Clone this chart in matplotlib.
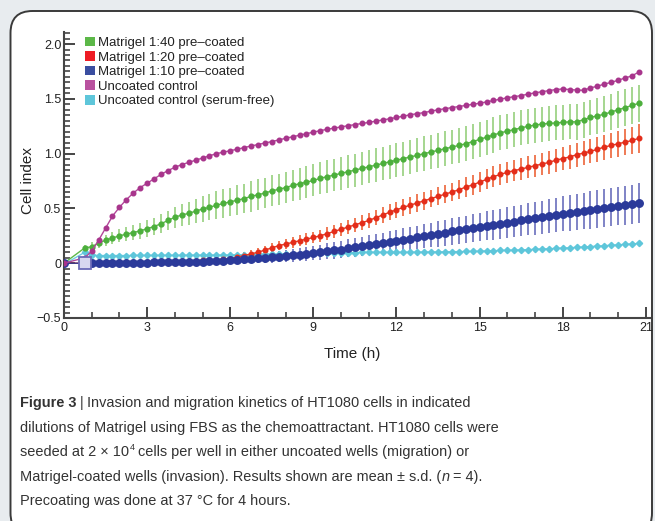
import matplotlib
matplotlib.use("Agg")
import matplotlib.pyplot as plt
from matplotlib.patches import FancyBboxPatch, Patch
from matplotlib.transforms import IdentityTransform
from matplotlib.ticker import MultipleLocator

# ---------------- data ----------------
time_h = [0.0, 0.75,
          1.0, 1.25, 1.5, 1.75, 2.0, 2.25, 2.5, 2.75, 3.0, 3.25, 3.5, 3.75,
          4.0, 4.25, 4.5, 4.75, 5.0, 5.25, 5.5, 5.75, 6.0, 6.25, 6.5, 6.75,
          7.0, 7.25, 7.5, 7.75, 8.0, 8.25, 8.5, 8.75, 9.0, 9.25, 9.5, 9.75,
          10.0, 10.25, 10.5, 10.75, 11.0, 11.25, 11.5, 11.75, 12.0, 12.25, 12.5, 12.75,
          13.0, 13.25, 13.5, 13.75, 14.0, 14.25, 14.5, 14.75, 15.0, 15.25, 15.5, 15.75,
          16.0, 16.25, 16.5, 16.75, 17.0, 17.25, 17.5, 17.75, 18.0, 18.25, 18.5, 18.75,
          19.0, 19.25, 19.5, 19.75, 20.0, 20.25, 20.5, 20.75]

uncoated = [0.00, 0.05,
            0.11, 0.21, 0.32, 0.43, 0.51, 0.58, 0.64, 0.69, 0.73, 0.77, 0.81, 0.845,
            0.875, 0.90, 0.92, 0.94, 0.96, 0.98, 1.00, 1.013, 1.027, 1.04, 1.055, 1.07,
            1.083, 1.097, 1.11, 1.125, 1.14, 1.154, 1.168, 1.182, 1.196, 1.21, 1.222, 1.233,
            1.244, 1.255, 1.265, 1.275, 1.285, 1.296, 1.307, 1.318, 1.33, 1.342, 1.355, 1.365,
            1.375, 1.388, 1.40, 1.41, 1.42, 1.43, 1.44, 1.45, 1.46, 1.472, 1.485, 1.497,
            1.51, 1.52, 1.53, 1.543, 1.555, 1.565, 1.575, 1.585, 1.59, 1.585, 1.58, 1.578,
            1.60, 1.615, 1.635, 1.65, 1.67, 1.69, 1.71, 1.745]
uncoated_sd = [0.0, 0.01,
               0.01, 0.012, 0.012, 0.012, 0.014, 0.014, 0.014, 0.014, 0.015, 0.015, 0.015, 0.015,
               0.015, 0.015, 0.015, 0.015, 0.015, 0.015, 0.016, 0.016, 0.016, 0.016, 0.016, 0.016,
               0.016, 0.016, 0.016, 0.016, 0.017, 0.017, 0.017, 0.017, 0.017, 0.017, 0.017, 0.017,
               0.017, 0.017, 0.017, 0.017, 0.018, 0.018, 0.018, 0.018, 0.018, 0.018, 0.018, 0.018,
               0.018, 0.018, 0.018, 0.018, 0.018, 0.018, 0.018, 0.018, 0.018, 0.018, 0.018, 0.018,
               0.018, 0.018, 0.018, 0.018, 0.018, 0.018, 0.018, 0.018, 0.018, 0.018, 0.018, 0.018,
               0.018, 0.018, 0.018, 0.018, 0.018, 0.018, 0.018, 0.018]

m40 = [0.00, 0.14,
       0.15, 0.185, 0.21, 0.23, 0.25, 0.265, 0.28, 0.295, 0.315, 0.335, 0.36, 0.39,
       0.42, 0.44, 0.455, 0.475, 0.495, 0.51, 0.53, 0.545, 0.56, 0.575, 0.59, 0.61,
       0.625, 0.64, 0.66, 0.675, 0.69, 0.71, 0.725, 0.74, 0.755, 0.775, 0.79, 0.805,
       0.82, 0.835, 0.85, 0.865, 0.88, 0.895, 0.91, 0.925, 0.94, 0.955, 0.97, 0.985,
       1.00, 1.015, 1.03, 1.045, 1.06, 1.075, 1.09, 1.11, 1.13, 1.15, 1.17, 1.19,
       1.205, 1.22, 1.235, 1.25, 1.26, 1.27, 1.275, 1.28, 1.285, 1.29, 1.29, 1.31,
       1.33, 1.345, 1.36, 1.38, 1.40, 1.42, 1.44, 1.46]
m40_sd = [0.0, 0.03,
          0.04, 0.045, 0.05, 0.055, 0.06, 0.065, 0.07, 0.072, 0.075, 0.08, 0.085, 0.09,
          0.095, 0.10, 0.105, 0.11, 0.115, 0.12, 0.125, 0.13, 0.13, 0.135, 0.135, 0.14,
          0.14, 0.14, 0.142, 0.142, 0.144, 0.144, 0.145, 0.145, 0.146, 0.147, 0.148, 0.148,
          0.15, 0.15, 0.15, 0.152, 0.152, 0.153, 0.153, 0.154, 0.155, 0.155, 0.156, 0.156,
          0.157, 0.157, 0.158, 0.158, 0.159, 0.159, 0.16, 0.16, 0.16, 0.16, 0.16, 0.16,
          0.16, 0.16, 0.16, 0.16, 0.16, 0.16, 0.16, 0.16, 0.16, 0.16, 0.162, 0.163,
          0.164, 0.165, 0.166, 0.167, 0.168, 0.168, 0.17, 0.17]

m20 = [0.00, 0.00,
       0.005, 0.005, 0.005, 0.008, 0.008, 0.01, 0.01, 0.012, 0.012, 0.014, 0.015, 0.016,
       0.018, 0.02, 0.022, 0.024, 0.026, 0.028, 0.032, 0.036, 0.042, 0.055, 0.07, 0.085,
       0.10, 0.12, 0.14, 0.16, 0.175, 0.19, 0.205, 0.22, 0.235, 0.25, 0.27, 0.29,
       0.31, 0.33, 0.35, 0.37, 0.39, 0.415, 0.44, 0.465, 0.487, 0.51, 0.53, 0.55,
       0.57, 0.59, 0.61, 0.63, 0.65, 0.67, 0.695, 0.715, 0.74, 0.765, 0.79, 0.81,
       0.83, 0.845, 0.86, 0.875, 0.89, 0.905, 0.92, 0.94, 0.955, 0.97, 0.99, 1.005,
       1.02, 1.04, 1.06, 1.075, 1.09, 1.105, 1.12, 1.14]
m20_sd = [0.0, 0.005,
          0.008, 0.008, 0.009, 0.009, 0.01, 0.01, 0.011, 0.011, 0.012, 0.012, 0.013, 0.013,
          0.014, 0.015, 0.016, 0.017, 0.018, 0.019, 0.02, 0.022, 0.025, 0.028, 0.031, 0.034,
          0.037, 0.04, 0.042, 0.044, 0.046, 0.048, 0.05, 0.052, 0.054, 0.055, 0.056, 0.058,
          0.06, 0.062, 0.064, 0.066, 0.068, 0.07, 0.071, 0.073, 0.075, 0.076, 0.078, 0.079,
          0.08, 0.081, 0.083, 0.084, 0.085, 0.086, 0.088, 0.089, 0.09, 0.091, 0.093, 0.094,
          0.095, 0.096, 0.098, 0.099, 0.10, 0.101, 0.103, 0.104, 0.105, 0.106, 0.108, 0.109,
          0.11, 0.112, 0.114, 0.116, 0.118, 0.122, 0.126, 0.13]

m10 = [0.00, 0.00,
       0.0, 0.0, 0.002, 0.003, 0.004, 0.005, 0.005, 0.006, 0.006, 0.007, 0.008, 0.009,
       0.01, 0.011, 0.012, 0.013, 0.015, 0.017, 0.02, 0.023, 0.027, 0.031, 0.035, 0.04,
       0.045, 0.05, 0.055, 0.06, 0.066, 0.072, 0.078, 0.084, 0.09, 0.099, 0.108, 0.117,
       0.125, 0.135, 0.145, 0.155, 0.165, 0.175, 0.185, 0.195, 0.205, 0.215, 0.225, 0.235,
       0.245, 0.256, 0.267, 0.278, 0.29, 0.30, 0.31, 0.32, 0.33, 0.34, 0.35, 0.36,
       0.37, 0.38, 0.39, 0.40, 0.41, 0.42, 0.43, 0.44, 0.45, 0.459, 0.468, 0.477,
       0.485, 0.494, 0.503, 0.512, 0.52, 0.53, 0.54, 0.548]
m10_sd = [0.0, 0.005,
          0.008, 0.008, 0.009, 0.009, 0.01, 0.01, 0.011, 0.011, 0.012, 0.013, 0.014, 0.016,
          0.018, 0.019, 0.021, 0.023, 0.025, 0.027, 0.03, 0.032, 0.035, 0.037, 0.04, 0.042,
          0.045, 0.047, 0.05, 0.052, 0.055, 0.057, 0.06, 0.062, 0.065, 0.069, 0.072, 0.076,
          0.08, 0.082, 0.085, 0.087, 0.09, 0.092, 0.095, 0.097, 0.10, 0.102, 0.105, 0.107,
          0.11, 0.112, 0.115, 0.117, 0.12, 0.122, 0.125, 0.127, 0.13, 0.132, 0.135, 0.137,
          0.14, 0.142, 0.145, 0.147, 0.15, 0.152, 0.155, 0.157, 0.16, 0.162, 0.165, 0.167,
          0.17, 0.171, 0.172, 0.173, 0.175, 0.177, 0.178, 0.18]

serum_free = [-0.01, 0.10,
              0.075, 0.07, 0.07, 0.07, 0.07, 0.07, 0.071, 0.071, 0.071, 0.071, 0.072, 0.072,
              0.072, 0.072, 0.073, 0.073, 0.073, 0.073, 0.074, 0.074, 0.075, 0.076, 0.077, 0.078,
              0.08, 0.081, 0.082, 0.083, 0.085, 0.086, 0.087, 0.088, 0.09, 0.091, 0.092, 0.093,
              0.095, 0.096, 0.097, 0.098, 0.10, 0.10, 0.10, 0.10, 0.10, 0.10, 0.101, 0.101,
              0.102, 0.103, 0.103, 0.104, 0.105, 0.106, 0.107, 0.108, 0.11, 0.112, 0.114, 0.116,
              0.118, 0.12, 0.122, 0.124, 0.127, 0.13, 0.132, 0.135, 0.138, 0.141, 0.145, 0.148,
              0.152, 0.156, 0.16, 0.164, 0.168, 0.172, 0.176, 0.18]
serum_free_sd = [0.0, 0.01,
                 0.01, 0.01, 0.01, 0.01, 0.01, 0.01, 0.01, 0.01, 0.01, 0.01, 0.01, 0.01,
                 0.01, 0.01, 0.01, 0.01, 0.01, 0.01, 0.01, 0.01, 0.01, 0.01, 0.01, 0.01,
                 0.01, 0.01, 0.01, 0.01, 0.01, 0.01, 0.01, 0.01, 0.01, 0.01, 0.01, 0.01,
                 0.01, 0.01, 0.01, 0.01, 0.01, 0.01, 0.01, 0.01, 0.01, 0.01, 0.01, 0.01,
                 0.01, 0.01, 0.01, 0.01, 0.01, 0.01, 0.01, 0.01, 0.01, 0.01, 0.01, 0.01,
                 0.01, 0.01, 0.01, 0.01, 0.01, 0.01, 0.01, 0.01, 0.01, 0.01, 0.01, 0.01,
                 0.01, 0.01, 0.01, 0.01, 0.01, 0.01, 0.01, 0.01]

legend_labels = ["Matrigel 1:40 pre\u2013coated", "Matrigel 1:20 pre\u2013coated",
                 "Matrigel 1:10 pre\u2013coated", "Uncoated control",
                 "Uncoated control (serum-free)"]
legend_colors = ["#5cb848", "#ee1c25", "#3a4ea0", "#b9529f", "#5ec6da"]

y_ticks = [-0.5, 0, 0.5, 1.0, 1.5, 2.0]
y_tick_labels = ["\u22120.5", "0", "0.5", "1.0", "1.5", "2.0"]
x_ticks = [0, 3, 6, 9, 12, 15, 18, 21]

caption_lines = [
    "Invasion and migration kinetics of HT1080 cells in indicated",
    "dilutions of Matrigel using FBS as the chemoattractant. HT1080 cells were",
    "cells per well in either uncoated wells (migration) or",
    "Matrigel-coated wells (invasion). Results shown are mean \u00b1 s.d. (",
    "Precoating was done at 37 \u00b0C for 4 hours.",
]

# ---------------- figure ----------------
W, H = 655, 521
fig = plt.figure(figsize=(W / 100, H / 100), dpi=100, facecolor="#e8ecef")

box = FancyBboxPatch((10.5, -14), 641.5, 524, boxstyle="round,pad=0,rounding_size=22",
                     transform=IdentityTransform(), facecolor="white",
                     edgecolor="#3a3a3a", linewidth=1.4, zorder=0)
fig.add_artist(box)

ax_l, ax_r, ax_t, ax_b = 64, 650, 32, 318
ax = fig.add_axes([ax_l / W, 1 - ax_b / H, (ax_r - ax_l) / W, (ax_b - ax_t) / H])
ax.set_facecolor("none")
ax.set_xlim(0, 21.15)
ax.set_ylim(-0.5, 2.11)

axis_color = "#454545"
for s in ["top", "right"]:
    ax.spines[s].set_visible(False)
for s in ["left", "bottom"]:
    ax.spines[s].set_color(axis_color)
    ax.spines[s].set_linewidth(1.5)

ax.set_yticks(y_ticks)
ax.set_yticklabels(y_tick_labels)
ax.set_xticks(x_ticks)
ax.yaxis.set_minor_locator(MultipleLocator(0.05))
ax.xaxis.set_minor_locator(MultipleLocator(1))
ax.tick_params(axis="both", which="major", direction="in", length=8, width=1.4,
               color=axis_color, labelsize=9, labelcolor="#222222")
ax.tick_params(axis="both", which="minor", direction="in", length=4.5, width=1.2,
               color=axis_color)
ax.tick_params(axis="y", which="major", pad=2)
ax.tick_params(axis="x", which="major", pad=3)
for lab in ax.get_xticklabels() + ax.get_yticklabels():
    lab.set_fontfamily("Liberation Sans")

# error bars
err_kw = dict(fmt="none", capsize=0, elinewidth=1.4, zorder=2)
ax.errorbar(time_h, m40, yerr=m40_sd, ecolor="#a5d68f", **err_kw)
ax.errorbar(time_h, m20, yerr=m20_sd, ecolor="#ef7a55", **err_kw)
ax.errorbar(time_h, m10, yerr=m10_sd, ecolor="#7f83c6", **err_kw)
ax.errorbar(time_h, serum_free, yerr=serum_free_sd, ecolor="#9fdcea", **err_kw)
ax.errorbar(time_h, uncoated, yerr=uncoated_sd, ecolor="#c77bb6", fmt="none",
            capsize=0, elinewidth=1.2, zorder=2)

# lines + markers
ax.plot(time_h, serum_free, "-", color="#6fcfe2", lw=1.0, marker="D", ms=3.2,
        mfc="#5ec6da", mec="#5ec6da", zorder=3)
ax.plot(time_h, m40, "-", color="#5cb848", lw=1.0, marker="o", ms=3.5,
        mfc="#4caf3c", mec="#4caf3c", zorder=3)
ax.plot(time_h, m20, "-", color="#e8391f", lw=1.0, marker="o", ms=3.3,
        mfc="#e32d1a", mec="#e32d1a", zorder=3)
ax.plot(time_h, m10, "-", color="#2e3a94", lw=1.0, marker="o", ms=5.4,
        mfc="#2b3a9a", mec="#2b3a9a", zorder=4)
ax.plot(time_h, uncoated, "-", color="#b3479a", lw=1.0, marker="o", ms=3.3,
        mfc="#a8358c", mec="#a8358c", zorder=4)
# data-cursor square on the 1:10 series
ax.plot(time_h[1], m10[1], marker="s", ms=8, mfc="#d8d8f0", mec="#6b6bb8",
        mew=1.3, zorder=5)

# legend
handles = [Patch(facecolor=c, edgecolor="none") for c in legend_colors]
leg = fig.legend(handles, legend_labels, loc="upper left",
                 bbox_to_anchor=(85 / W, 1 - 36.5 / H), frameon=False,
                 borderpad=0, borderaxespad=0, handlelength=0.75, handleheight=0.75,
                 handletextpad=0.25, labelspacing=0.165,
                 prop={"family": "Liberation Sans", "size": 9.5})
for t in leg.get_texts():
    t.set_color("#222222")

# axis labels
fig.text(352 / W, 1 - 354 / H, "Time (h)", ha="center", va="center",
         fontsize=11, family="Liberation Sans", color="#222222")
fig.text(28 / W, 1 - 180 / H, "Cell index", ha="center", va="center", rotation=90,
         fontsize=11, family="Liberation Sans", color="#222222")

# caption
cap_font = ["Liberation Sans Narrow", "Liberation Sans", "DejaVu Sans"]
cap_size = 10.45
cap_color = "#333333"
renderer = fig.canvas.get_renderer()


def put(x_px, base_px, s, **kw):
    t = fig.text(x_px / W, 1 - base_px / H, s, ha="left", va="baseline",
                 fontsize=kw.pop("size", cap_size), family=cap_font,
                 color=cap_color, **kw)
    bb = t.get_window_extent(renderer)
    return bb.x1


space = 3.6
baselines = [407.5, 431.9, 456.3, 480.7, 505.1]
x0 = 20

x = put(x0, baselines[0], "Figure 3", fontweight="bold")
x = put(x + space, baselines[0], "|")
put(x + space, baselines[0], caption_lines[0])

put(x0, baselines[1], caption_lines[1])

x = put(x0, baselines[2], "seeded at 2 \u00d7 10")
x = put(x + 0.5, baselines[2] - 6, "4", size=cap_size * 0.62)
put(x + space, baselines[2], caption_lines[2])

x = put(x0, baselines[3], caption_lines[3])
x = put(x + 0.5, baselines[3], "n", fontstyle="italic")
put(x + space, baselines[3], "= 4).")

put(x0, baselines[4], caption_lines[4])

fig.savefig("out.png", dpi=100, facecolor=fig.get_facecolor())
